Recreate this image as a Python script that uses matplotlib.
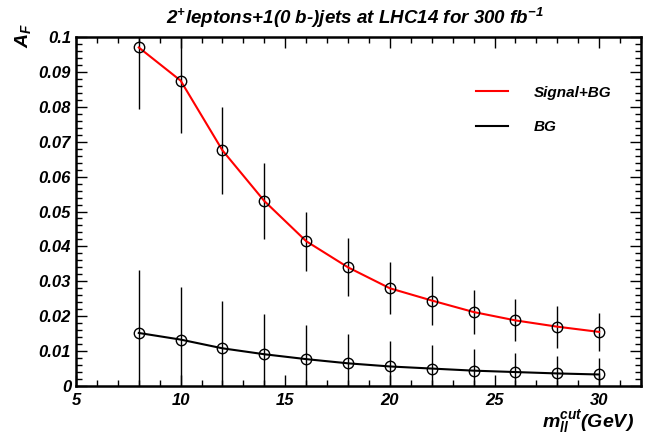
import matplotlib
matplotlib.use("Agg")
import matplotlib.pyplot as plt
from matplotlib.ticker import MultipleLocator

plt.rcParams['font.family'] = ['Liberation Sans', 'DejaVu Sans']
plt.rcParams['mathtext.fontset'] = 'custom'
plt.rcParams['mathtext.rm'] = 'Liberation Sans:italic:bold'
plt.rcParams['mathtext.it'] = 'Liberation Sans:italic:bold'
plt.rcParams['mathtext.bf'] = 'Liberation Sans:italic:bold'

mcut = [8, 10, 12, 14, 16, 18, 20, 22, 24, 26, 28, 30]
sig_bg = [0.097, 0.0875, 0.0675, 0.053, 0.0415, 0.034, 0.028, 0.0245, 0.0212, 0.0188, 0.017, 0.0155]
sig_bg_err = [0.0175, 0.015, 0.0125, 0.011, 0.0085, 0.0083, 0.0075, 0.007, 0.0063, 0.006, 0.006, 0.0055]
bg = [0.0152, 0.0133, 0.0108, 0.0091, 0.0077, 0.0065, 0.0056, 0.0050, 0.0044, 0.0040, 0.0036, 0.0033]
bg_err = [0.018, 0.0152, 0.0137, 0.0114, 0.0098, 0.0083, 0.0074, 0.0068, 0.0061, 0.0055, 0.005, 0.0046]

fig = plt.figure(figsize=(6.52, 4.38), dpi=100)
ax = fig.add_axes([0.1166, 0.1187, 0.9831 - 0.1166, 0.9155 - 0.1187])

for y, e, c, lab in [(sig_bg, sig_bg_err, 'red', 'Signal+BG'), (bg, bg_err, 'black', 'BG')]:
    ax.errorbar(mcut, y, yerr=e, fmt='none', ecolor='black', elinewidth=1.0, capsize=0, zorder=2)
    ax.plot(mcut, y, color=c, lw=1.5, zorder=3, label=lab)
    ax.plot(mcut, y, 'o', mfc='none', mec='black', mew=1.0, ms=7.5, zorder=4)

ax.set_xlim(5, 32)
ax.set_ylim(0, 0.1)
ax.xaxis.set_major_locator(MultipleLocator(5))
ax.xaxis.set_minor_locator(MultipleLocator(1))
ax.yaxis.set_major_locator(MultipleLocator(0.01))
ax.yaxis.set_minor_locator(MultipleLocator(0.002))
ax.yaxis.set_major_formatter(matplotlib.ticker.FuncFormatter(lambda v, p: ('%g' % round(v, 3))))
ax.tick_params(which='both', direction='in', top=True, right=True, width=1.0)
ax.tick_params(which='major', length=8)
ax.tick_params(which='minor', length=4)
ax.tick_params(axis='x', pad=5)
for lbl in ax.get_xticklabels() + ax.get_yticklabels():
    lbl.set_fontweight('bold'); lbl.set_fontstyle('italic'); lbl.set_fontsize(12)
for sp in ax.spines.values():
    sp.set_linewidth(1.8)

fig.text(0.545, 0.958, r'2$^{+}$leptons+1(0 b-)jets at LHC14 for 300 fb$^{-1}$', ha='center', va='center',
         fontsize=13.5, fontweight='bold', fontstyle='italic')
fig.text(0.035, 0.92, r'A$_{F}$', rotation=90, ha='center', va='center', fontsize=14,
         fontweight='bold', fontstyle='italic')
fig.text(0.973, 0.024, r'm$_{ll}^{cut}$(GeV)', ha='right', va='baseline', fontsize=14,
         fontweight='bold', fontstyle='italic')

leg = ax.legend(loc='upper left', bbox_to_anchor=(0.683, 0.90), frameon=False, handlelength=2.1,
                handletextpad=1.7, labelspacing=1.35, prop={'weight': 'bold', 'style': 'italic', 'size': 11})

fig.savefig('out.png', dpi=100)
